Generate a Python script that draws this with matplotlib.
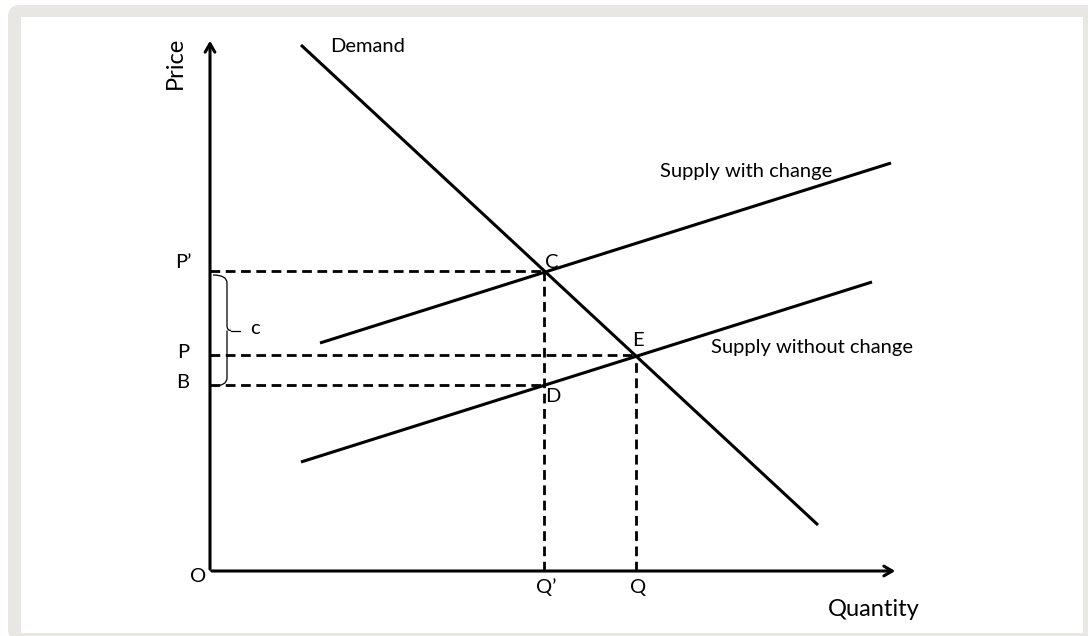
import matplotlib
matplotlib.use("agg")
import matplotlib.pyplot as plt
from matplotlib.patches import FancyBboxPatch, Rectangle, PathPatch
from matplotlib.path import Path

# coordinates measured from origin O (quantity right, price up)
demand_x = [91, 608]
demand_y = [526, 46]
supply_change_x = [110, 681]
supply_change_y = [228, 408]
supply_nochange_x = [91, 662]
supply_nochange_y = [109, 289]

point_names = ["C", "E", "D"]
point_x = [334, 426, 334]
point_y = [300, 216, 186]

price_names = ["P\u2019", "P", "B"]
price_y = [300, 216, 186]
qty_names = ["Q\u2019", "Q"]
qty_x = [334, 426]

x_end = 688
y_end = 533

plt.rcParams['font.family'] = ['Lato', 'DejaVu Sans']

fig = plt.figure(figsize=(10.88, 6.36), dpi=100)
fig.patch.set_facecolor("white")
ax = fig.add_axes([0, 0, 1, 1])
ax.set_xlim(-210, 878)
ax.set_ylim(-65, 571)
ax.axis("off")

# gray frame with white panel
ax.add_patch(FancyBboxPatch((-202, -70), 1100, 636, boxstyle="round,pad=0,rounding_size=12",
                            facecolor="#e8e7e4", edgecolor="none", zorder=0))
ax.add_patch(Rectangle((-189, -62), 1062, 616, facecolor="white", edgecolor="none", zorder=0))

# axes with arrows
ax.annotate("", xy=(0, y_end), xytext=(0, -1),
            arrowprops=dict(arrowstyle="->,head_length=0.6,head_width=0.35", lw=2.2, color="black"))
ax.annotate("", xy=(x_end, 0), xytext=(-1, 0),
            arrowprops=dict(arrowstyle="->,head_length=0.6,head_width=0.35", lw=2.2, color="black"))

ax.plot(demand_x, demand_y, color="black", lw=2.2, solid_capstyle="butt")
ax.plot(supply_change_x, supply_change_y, color="black", lw=2.2, solid_capstyle="butt")
ax.plot(supply_nochange_x, supply_nochange_y, color="black", lw=2.2, solid_capstyle="butt")

dash = dict(color="black", lw=2.0, linestyle=(0, (3.5, 2)))
for px, py in zip(point_x, point_y):
    ax.plot([0, px], [py, py], **dash)
for qx in qty_x:
    py = max(y for x, y in zip(point_x, point_y) if x == qx)
    ax.plot([qx, qx], [0, py], **dash)

fs = 14.5
ax.text(-35, 508, "Price", rotation=90, fontsize=17, ha="center", va="center")
ax.text(664, -38, "Quantity", fontsize=17, ha="center", va="center")
ax.text(120, 525, "Demand", fontsize=fs, ha="left", va="center")
ax.text(450, 399, "Supply with change", fontsize=fs, ha="left", va="center")
ax.text(501, 224, "Supply without change", fontsize=fs, ha="left", va="center")
ax.text(-12, -6, "O", fontsize=fs, ha="center", va="center")
for name, py, dy in zip(price_names, price_y, [9, 2, 2]):
    ax.text(-27, py + dy, name, fontsize=fs, ha="center", va="center")
for name, qx in zip(qty_names, qty_x):
    ax.text(qx + 2, -16, name, fontsize=fs, ha="center", va="center")
for name, px, py, dx, dy in zip(point_names, point_x, point_y, [8, 2, 9], [9, 14, -11]):
    ax.text(px + dx, py + dy, name, fontsize=fs, ha="center", va="center")
ax.text(45, 242, "c", fontsize=fs, ha="center", va="center")

# curly brace between P' and B
top, bot, xb = price_y[0] - 4, price_y[2] - 1, 17
mid = (top + bot) / 2
verts = [(3, top), (xb, top), (xb, top - 8),
         (xb, mid + 5), (xb, mid), (xb + 4, mid),
         (xb, mid), (xb, mid - 5),
         (xb, bot + 8), (xb, bot), (3, bot)]
codes = [Path.MOVETO, Path.CURVE3, Path.CURVE3,
         Path.LINETO, Path.CURVE3, Path.CURVE3,
         Path.MOVETO, Path.CURVE3, Path.LINETO,
         Path.CURVE3, Path.CURVE3]
ax.add_patch(PathPatch(Path(verts, codes), facecolor="none", edgecolor="black", lw=0.9))
ax.plot([xb + 4, 30], [mid, mid], color="black", lw=0.9)

fig.savefig("out.png", dpi=100)
